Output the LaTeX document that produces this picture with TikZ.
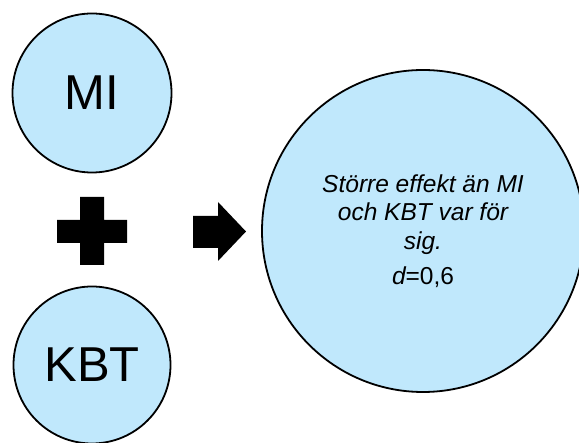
\documentclass[tikz,border=0pt]{standalone}
\usepackage{fontspec}
\setmainfont{Liberation Sans}
\definecolor{bubble}{RGB}{192,232,252}
\begin{document}
\begin{tikzpicture}[x=1pt,y=-1pt,
  bubblenode/.style={circle,draw=black,line width=1.8pt,fill=bubble,inner sep=0pt,align=center},
  symbolfill/.style={fill=black,draw=none}]
\useasboundingbox (0,0) rectangle (579,443);
\node[bubblenode,minimum size=159pt,font=\fontsize{49}{56}\selectfont] (mi) at (92,93) {MI};
\node[bubblenode,minimum size=157pt,font=\fontsize{49}{56}\selectfont] (kbt) at (92,365) {KBT};
\node[bubblenode,minimum size=322pt,font=\fontsize{24.5}{28.5}\selectfont\itshape] (result) at (423,231)
  {Större effekt än MI\\och KBT var för\\sig.\\[7pt]{\itshape d}\upshape=0,6};
% plus sign
\fill[symbolfill] (80,197) -- (104,197) -- (104,220) -- (127,220) -- (127,243) -- (104,243)
  -- (104,265) -- (80,265) -- (80,243) -- (57,243) -- (57,220) -- (80,220) -- cycle;
% arrow
\fill[symbolfill] (193,216) -- (218,216) -- (218,202) -- (246,231.5) -- (218,261) -- (218,248)
  -- (193,248) -- cycle;
\end{tikzpicture}
\end{document}
